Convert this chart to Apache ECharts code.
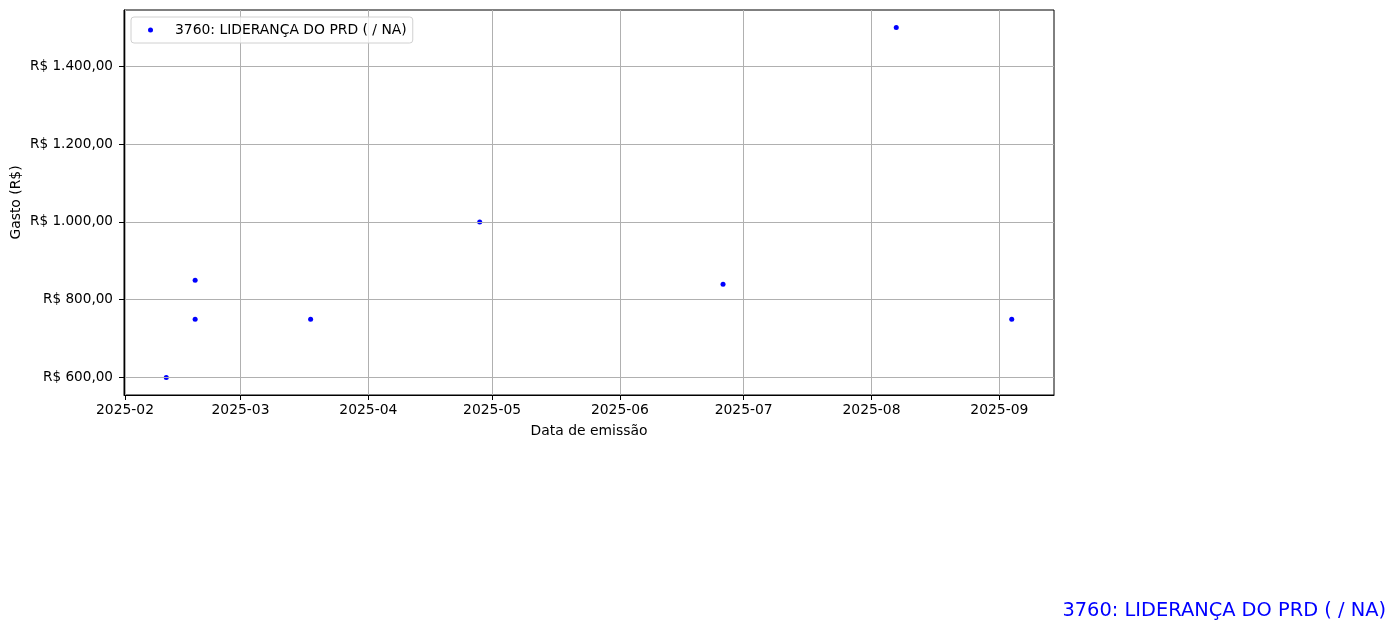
<!DOCTYPE html>
<html>
<head>
<meta charset="utf-8">
<script src="https://cdn.jsdelivr.net/npm/echarts@6/dist/echarts.min.js"></script>
<style>html,body{margin:0;padding:0;background:#fff}#c{width:1396px;height:630px}</style>
</head>
<body>
<div id="c"></div>
<script>
const seriesName = '3760: LIDERANÇA DO PRD ( / NA)';
const dates = ['2025-02-11','2025-02-18','2025-02-18','2025-03-18','2025-04-28','2025-06-26','2025-08-07','2025-09-04'];
const values = [600, 850, 750, 750, 1000, 840, 1500, 750];
const xTickLabels = ['2025-02','2025-03','2025-04','2025-05','2025-06','2025-07','2025-08','2025-09'];
const yTicks = [600, 800, 1000, 1200, 1400];

function ts(s){ const p = s.split('-').map(Number); return Date.UTC(p[0], p[1]-1, p[2] || 1); }
const xs = dates.map(ts);
const xMinD = Math.min(...xs), xMaxD = Math.max(...xs);
const xPad = (xMaxD - xMinD) * 0.05;
const yMinD = Math.min(...values), yMaxD = Math.max(...values);
const yPad = (yMaxD - yMinD) * 0.05;
const xTickVals = xTickLabels.map(ts);

function brl(v){
  const parts = Number(v).toFixed(2).split('.');
  const int = parts[0].replace(/\B(?=(\d{3})+(?!\d))/g, '.');
  return 'R$ ' + int + ',' + parts[1];
}
function ym(v){
  const d = new Date(Number(v));
  return d.getUTCFullYear() + '-' + String(d.getUTCMonth()+1).padStart(2,'0');
}

const FONT = 'DejaVu Sans';
const chart = echarts.init(document.getElementById('c'), null, {renderer:'canvas'});
chart.setOption({
  animation: false,
  textStyle: {fontFamily: FONT},
  grid: {left: 124, right: 342, top: 10, bottom: 235, containLabel: false, outerBoundsMode: 'none', show: true, borderColor: '#000', borderWidth: 1, backgroundColor: 'transparent'},
  legend: {
    show: true,
    left: 131, top: 17,
    orient: 'vertical',
    icon: 'circle',
    itemWidth: 5, itemHeight: 5,
    itemGap: 0,
    padding: [6, 6, 6, 17],
    borderColor: '#d0d0d0', borderWidth: 1, borderRadius: 3,
    backgroundColor: 'rgba(255,255,255,0.8)',
    textStyle: {fontFamily: FONT, fontSize: 13.9, color: '#000', padding: [0,0,0,17]},
    data: [seriesName]
  },
  xAxis: {
    type: 'value',
    min: xMinD - xPad, max: xMaxD + xPad,
    z: 3,
    name: 'Data de emissão', nameLocation: 'middle', nameGap: 29, nameMoveOverlap: false,
    nameTextStyle: {fontFamily: FONT, fontSize: 13.9, color: '#000'},
    axisLine: {show: true, onZero: false, lineStyle: {color: '#000', width: 1}},
    axisTick: {show: true, inside: false, length: 5, lineStyle: {color: '#000', width: 1}, customValues: xTickVals},
    axisLabel: {show: true, margin: 8, fontFamily: FONT, fontSize: 13.9, color: '#000', customValues: xTickVals, formatter: ym, showMinLabel: true, showMaxLabel: true},
    splitLine: {show: true, lineStyle: {color: '#b0b0b0', width: 1}}
  },
  yAxis: {
    type: 'value',
    min: yMinD - yPad, max: yMaxD + yPad,
    z: 3,
    name: 'Gasto (R$)', nameLocation: 'middle', nameGap: 101, nameRotate: 90, nameMoveOverlap: false,
    nameTextStyle: {fontFamily: FONT, fontSize: 13.9, color: '#000'},
    axisLine: {show: true, onZero: false, lineStyle: {color: '#000', width: 1}},
    axisTick: {show: true, inside: false, length: 5, lineStyle: {color: '#000', width: 1}, customValues: yTicks},
    axisLabel: {show: true, margin: 11, fontFamily: FONT, fontSize: 13.6, color: '#000', customValues: yTicks, formatter: brl},
    splitLine: {show: true, lineStyle: {color: '#b0b0b0', width: 1}}
  },
  series: [{
    name: seriesName,
    type: 'scatter',
    z: 2,
    symbol: 'circle',
    symbolSize: 5,
    itemStyle: {color: '#0000ff', opacity: 1},
    data: xs.map((x, i) => [x, values[i]])
  }],
  graphic: [{
    type: 'text',
    x: 1386, y: 611,
    style: {text: seriesName, fill: '#0000ff', font: '19.4px "DejaVu Sans"', textAlign: 'right', textVerticalAlign: 'middle'}
  }]
});
</script>
</body>
</html>
